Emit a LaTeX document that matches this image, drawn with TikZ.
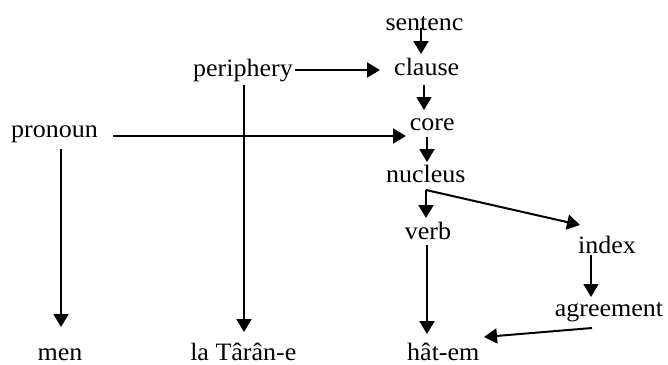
\documentclass[tikz,border=0pt]{standalone}
\usepackage{fontspec}
\setmainfont{Liberation Serif}[FakeStretch=1.04]
\usetikzlibrary{arrows.meta}
\begin{document}
\begin{tikzpicture}[x=1pt,y=-1pt,
  lbl/.style={inner sep=0pt,anchor=base,font=\fontsize{25}{28}\selectfont},
  arr/.style={line width=2pt,-{Triangle[length=13pt,width=15pt]}}]
\useasboundingbox (0,0) rectangle (668,364);
\node[lbl] (sentenc) at (424.5,30) {sentenc};
\node[lbl] (clause) at (426.7,75) {clause};
\node[lbl] (periphery) at (243,76) {periphery};
\node[lbl] (core) at (432.3,130) {core};
\node[lbl] (pronoun) at (54.5,137) {pronoun};
\node[lbl] (nucleus) at (425.8,182.3) {nucleus};
\node[lbl] (verb) at (428,239) {verb};
\node[lbl] (index) at (607,253.7) {index};
\node[lbl] (agreement) at (609,316) {agreement};
\node[lbl] (men) at (60,360) {men};
\node[lbl] (tarane) at (243.3,360) {la Târân-e};
\node[lbl] (hatem) at (443.3,360) {hât-em};
% connectors
\draw[arr] ([shift={(-3.5,-2)}]sentenc.base) -- ([shift={(-5.7,-21)}]clause.base);
\draw[arr] ([shift={(52,-6)}]periphery.base) -- ([shift={(-46.7,-5)}]clause.base);
\draw[arr] ([shift={(-2.7,10)}]clause.base) -- ([shift={(-8.3,-20)}]core.base);
\draw[arr] ([shift={(58.5,-1)}]pronoun.base) -- ([shift={(-26.3,6)}]core.base);
\draw[arr] ([shift={(-5.3,7)}]core.base) -- ([shift={(1.2,-20.3)}]nucleus.base);
\draw[arr] ([shift={(1,9)}]periphery.base) -- ([shift={(0.7,-28)}]tarane.base);
\draw[arr] ([shift={(6.5,12)}]pronoun.base) -- ([shift={(1,-33)}]men.base);
\coordinate (split) at ([shift={(0.2,7.7)}]nucleus.base);
\draw[arr] (split) -- ([shift={(-2,-21)}]verb.base);
\draw[arr] (split) -- ([shift={(-27,-28.7)}]index.base);
\draw[arr] ([shift={(-1,6)}]verb.base) -- ([shift={(-16.3,-26)}]hatem.base);
\draw[arr] ([shift={(-16,1.3)}]index.base) -- ([shift={(-18,-19)}]agreement.base);
\draw[arr] ([shift={(-17,12)}]agreement.base) -- ([shift={(40.7,-23)}]hatem.base);
\end{tikzpicture}
\end{document}
